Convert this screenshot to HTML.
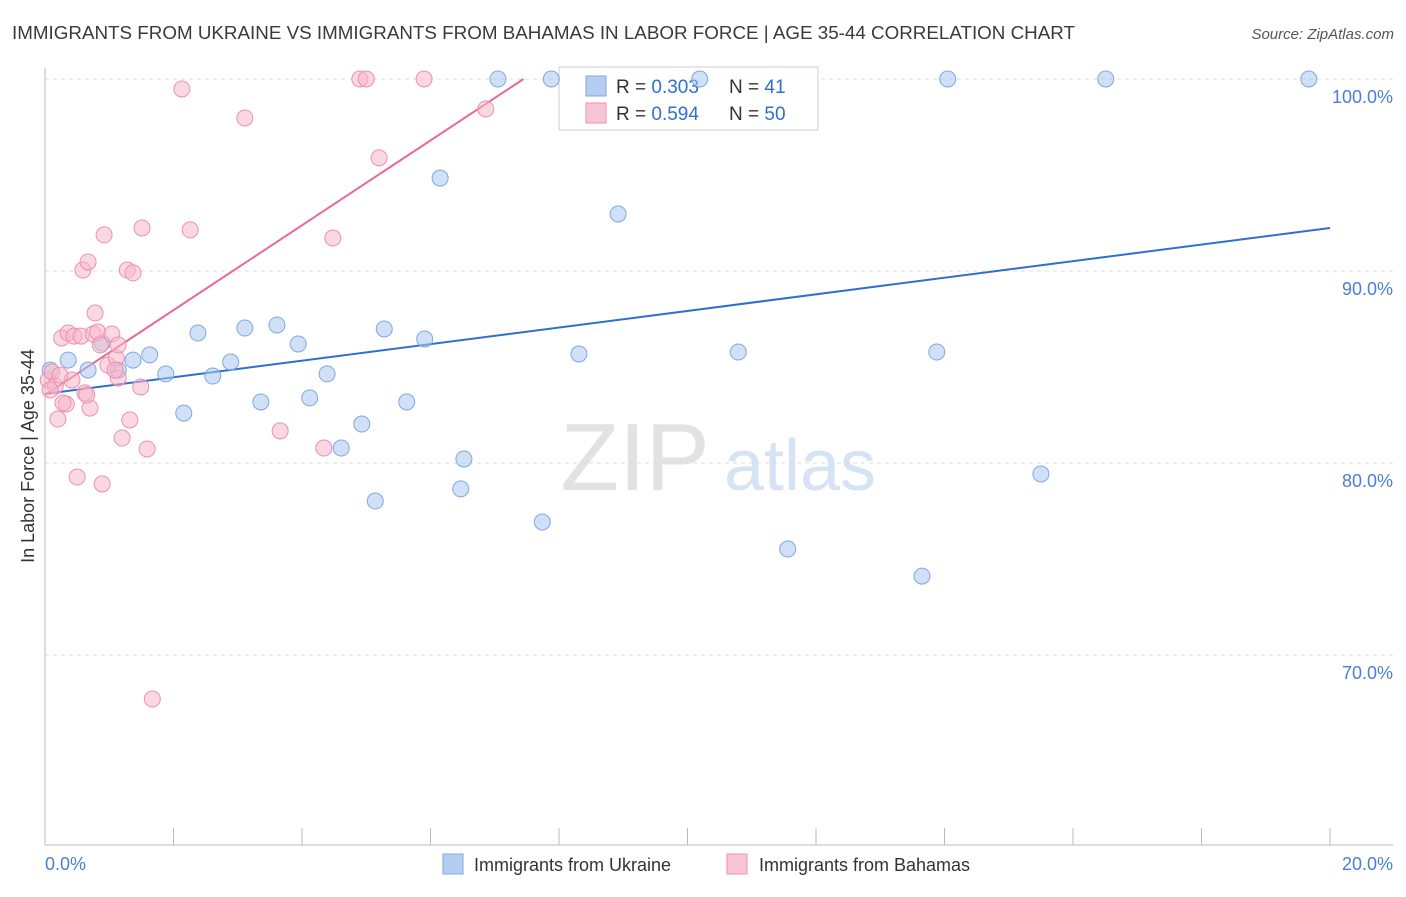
<!DOCTYPE html>
<html><head><meta charset="utf-8"><style>
body{margin:0;background:#fff;font-family:"Liberation Sans",sans-serif;}
svg text{font-family:"Liberation Sans",sans-serif;}
</style></head><body>
<svg id="chart" width="1406" height="892" viewBox="0 0 1406 892" xmlns="http://www.w3.org/2000/svg">
<text x="12" y="39" font-size="18" fill="#3a3a3a" textLength="1063" lengthAdjust="spacingAndGlyphs">IMMIGRANTS FROM UKRAINE VS IMMIGRANTS FROM BAHAMAS IN LABOR FORCE | AGE 35-44 CORRELATION CHART</text>
<text x="1394" y="39" font-size="15" fill="#555" text-anchor="end" font-style="italic">Source: ZipAtlas.com</text>
<g>
<text x="635" y="490" font-size="96" fill="#e2e2e2" text-anchor="middle" font-family="Liberation Serif,serif">ZIP</text>
<text x="800" y="490" font-size="72" fill="#d5e3f5" text-anchor="middle">atlas</text>
</g>
<g id="grid"></g><g id="axes"></g>
<g>
<rect x="559" y="67" width="259" height="63" fill="#fff" fill-opacity="0.85" stroke="#ccc"/>
<rect x="586" y="76" width="20" height="20" fill="#b4cdf0" stroke="#7fa8e0"/>
<rect x="586" y="103" width="20" height="20" fill="#f8c5d5" stroke="#ee8fb0"/>
<text x="616" y="93" font-size="19" fill="#333">R = <tspan fill="#2f6fd0">0.303</tspan></text>
<text x="729" y="93" font-size="19" fill="#333">N =  <tspan fill="#2f6fd0">41</tspan></text>
<text x="616" y="120" font-size="19" fill="#333">R = <tspan fill="#2f6fd0">0.594</tspan></text>
<text x="729" y="120" font-size="19" fill="#333">N = <tspan fill="#2f6fd0">50</tspan></text>
</g>
<g id="trend"></g><g id="points"></g>
<text transform="translate(34,456) rotate(-90)" font-size="18" fill="#333" text-anchor="middle">In Labor Force | Age 35-44</text>
<text x="45" y="870" font-size="18" fill="#4a7fd4">0.0%</text>
<text x="1393" y="870" font-size="18" fill="#4a7fd4" text-anchor="end">20.0%</text>
<g>
<rect x="443" y="854" width="20" height="20" fill="#b4cdf0" stroke="#7fa8e0"/>
<text x="474" y="871" font-size="18" fill="#333">Immigrants from Ukraine</text>
<rect x="727" y="854" width="20" height="20" fill="#f8c5d5" stroke="#ee8fb0"/>
<text x="759" y="871" font-size="18" fill="#333">Immigrants from Bahamas</text>
</g>
</svg>
<script>
const yTicks=[100,90,80,70];
const yTickLabels=["100.0%","90.0%","80.0%","70.0%"];
const xTicks=[0,2,4,6,8,10,12,14,16,18,20];
const ukraineX=[0.36,0.08,0.67,0.89,1.37,1.63,1.14,1.88,2.16,2.38,2.61,2.89,3.11,3.36,3.61,3.94,4.12,4.39,4.61,4.93,5.14,5.28,5.63,5.91,6.15,6.47,6.52,7.05,7.74,7.88,8.31,8.92,10.19,10.79,11.56,13.65,13.88,14.05,15.50,16.51,19.67];
const ukraineY=[85.36,84.84,84.84,86.25,85.36,85.63,84.84,84.64,82.60,86.77,84.53,85.26,87.03,83.18,87.19,86.20,83.39,84.64,80.78,82.03,78.02,86.98,83.18,86.46,94.84,78.65,80.21,100,76.93,100,85.68,92.97,100,85.78,75.52,74.11,85.78,100,79.43,100,100];
const bahamasX=[0.05,0.11,0.16,0.20,0.26,0.33,0.36,0.42,0.45,0.50,0.56,0.59,0.62,0.67,0.70,0.75,0.78,0.82,0.89,0.92,0.98,1.04,1.11,1.14,1.14,1.20,1.28,1.32,1.37,1.49,1.51,1.59,1.67,2.13,2.26,3.11,3.66,4.34,4.48,4.90,5.00,5.20,5.90,6.86,0.08,0.23,0.65,1.09,0.28,0.86];
const bahamasY=[84.32,84.74,84.01,82.29,86.51,83.07,86.77,84.32,86.61,79.27,86.61,90.05,83.65,90.47,82.86,86.72,87.81,86.82,78.91,91.88,85.10,86.72,85.47,84.43,86.15,81.30,90.05,82.24,89.90,83.96,92.24,80.73,67.71,99.48,92.14,97.97,81.67,80.78,91.72,100,100,95.89,100,98.44,83.80,84.58,83.54,84.84,83.13,86.15];
const ukraineTrend=[83.6,0.432];
const bahamasTrend=[83.54,2.21];

const NS="http://www.w3.org/2000/svg";
const X=v=>45+v/20*1285;
const Y=v=>79+(100-v)*19.2;
function mk(tag,attrs,parent){const e=document.createElementNS(NS,tag);for(const k in attrs)e.setAttribute(k,attrs[k]);document.getElementById(parent).appendChild(e);return e;}
yTicks.forEach((t,i)=>{
  const g=mk('line',{x1:45,x2:1393,y1:Y(t),y2:Y(t),stroke:'#ddd','stroke-dasharray':'4,4'},'grid');
  
  
  const l=mk('text',{x:1393,y:Y(t)+24,'font-size':18,fill:'#4a7fd4','text-anchor':'end'},'grid');
  l.textContent=yTickLabels[i];
  
  
});
const xa=mk('line',{x1:45,x2:1393,y1:845,y2:845,stroke:'#bbb'},'axes');


const ya=mk('line',{x1:45,x2:45,y1:68,y2:845,stroke:'#bbb'},'axes');


xTicks.forEach(t=>{
  const k=mk('line',{x1:X(t),x2:X(t),y1:828,y2:845,stroke:'#bbb'},'axes');
  
  
});
function dots(xs,ys,fill,stroke,name){
  xs.forEach((x,i)=>{
    const c=mk('circle',{cx:X(x),cy:Y(ys[i]),r:8,fill:fill,'fill-opacity':0.55,stroke:stroke,'stroke-width':1},'points');
    
    
  });
}
dots(ukraineX,ukraineY,'#a9c7ee','#7fa8e0','ukraine-point');
dots(bahamasX,bahamasY,'#f6b8cb','#ee8fb0','bahamas-point');
const t1=mk('line',{x1:X(0),y1:Y(ukraineTrend[0]),x2:X(20),y2:Y(ukraineTrend[0]+20*ukraineTrend[1]),stroke:'#2f6fd0','stroke-width':2},'trend');


const xe=(100-bahamasTrend[0])/bahamasTrend[1];
const t2=mk('line',{x1:X(0),y1:Y(bahamasTrend[0]),x2:X(xe),y2:Y(100),stroke:'#e8689a','stroke-width':2},'trend');


</script>
</body></html>
